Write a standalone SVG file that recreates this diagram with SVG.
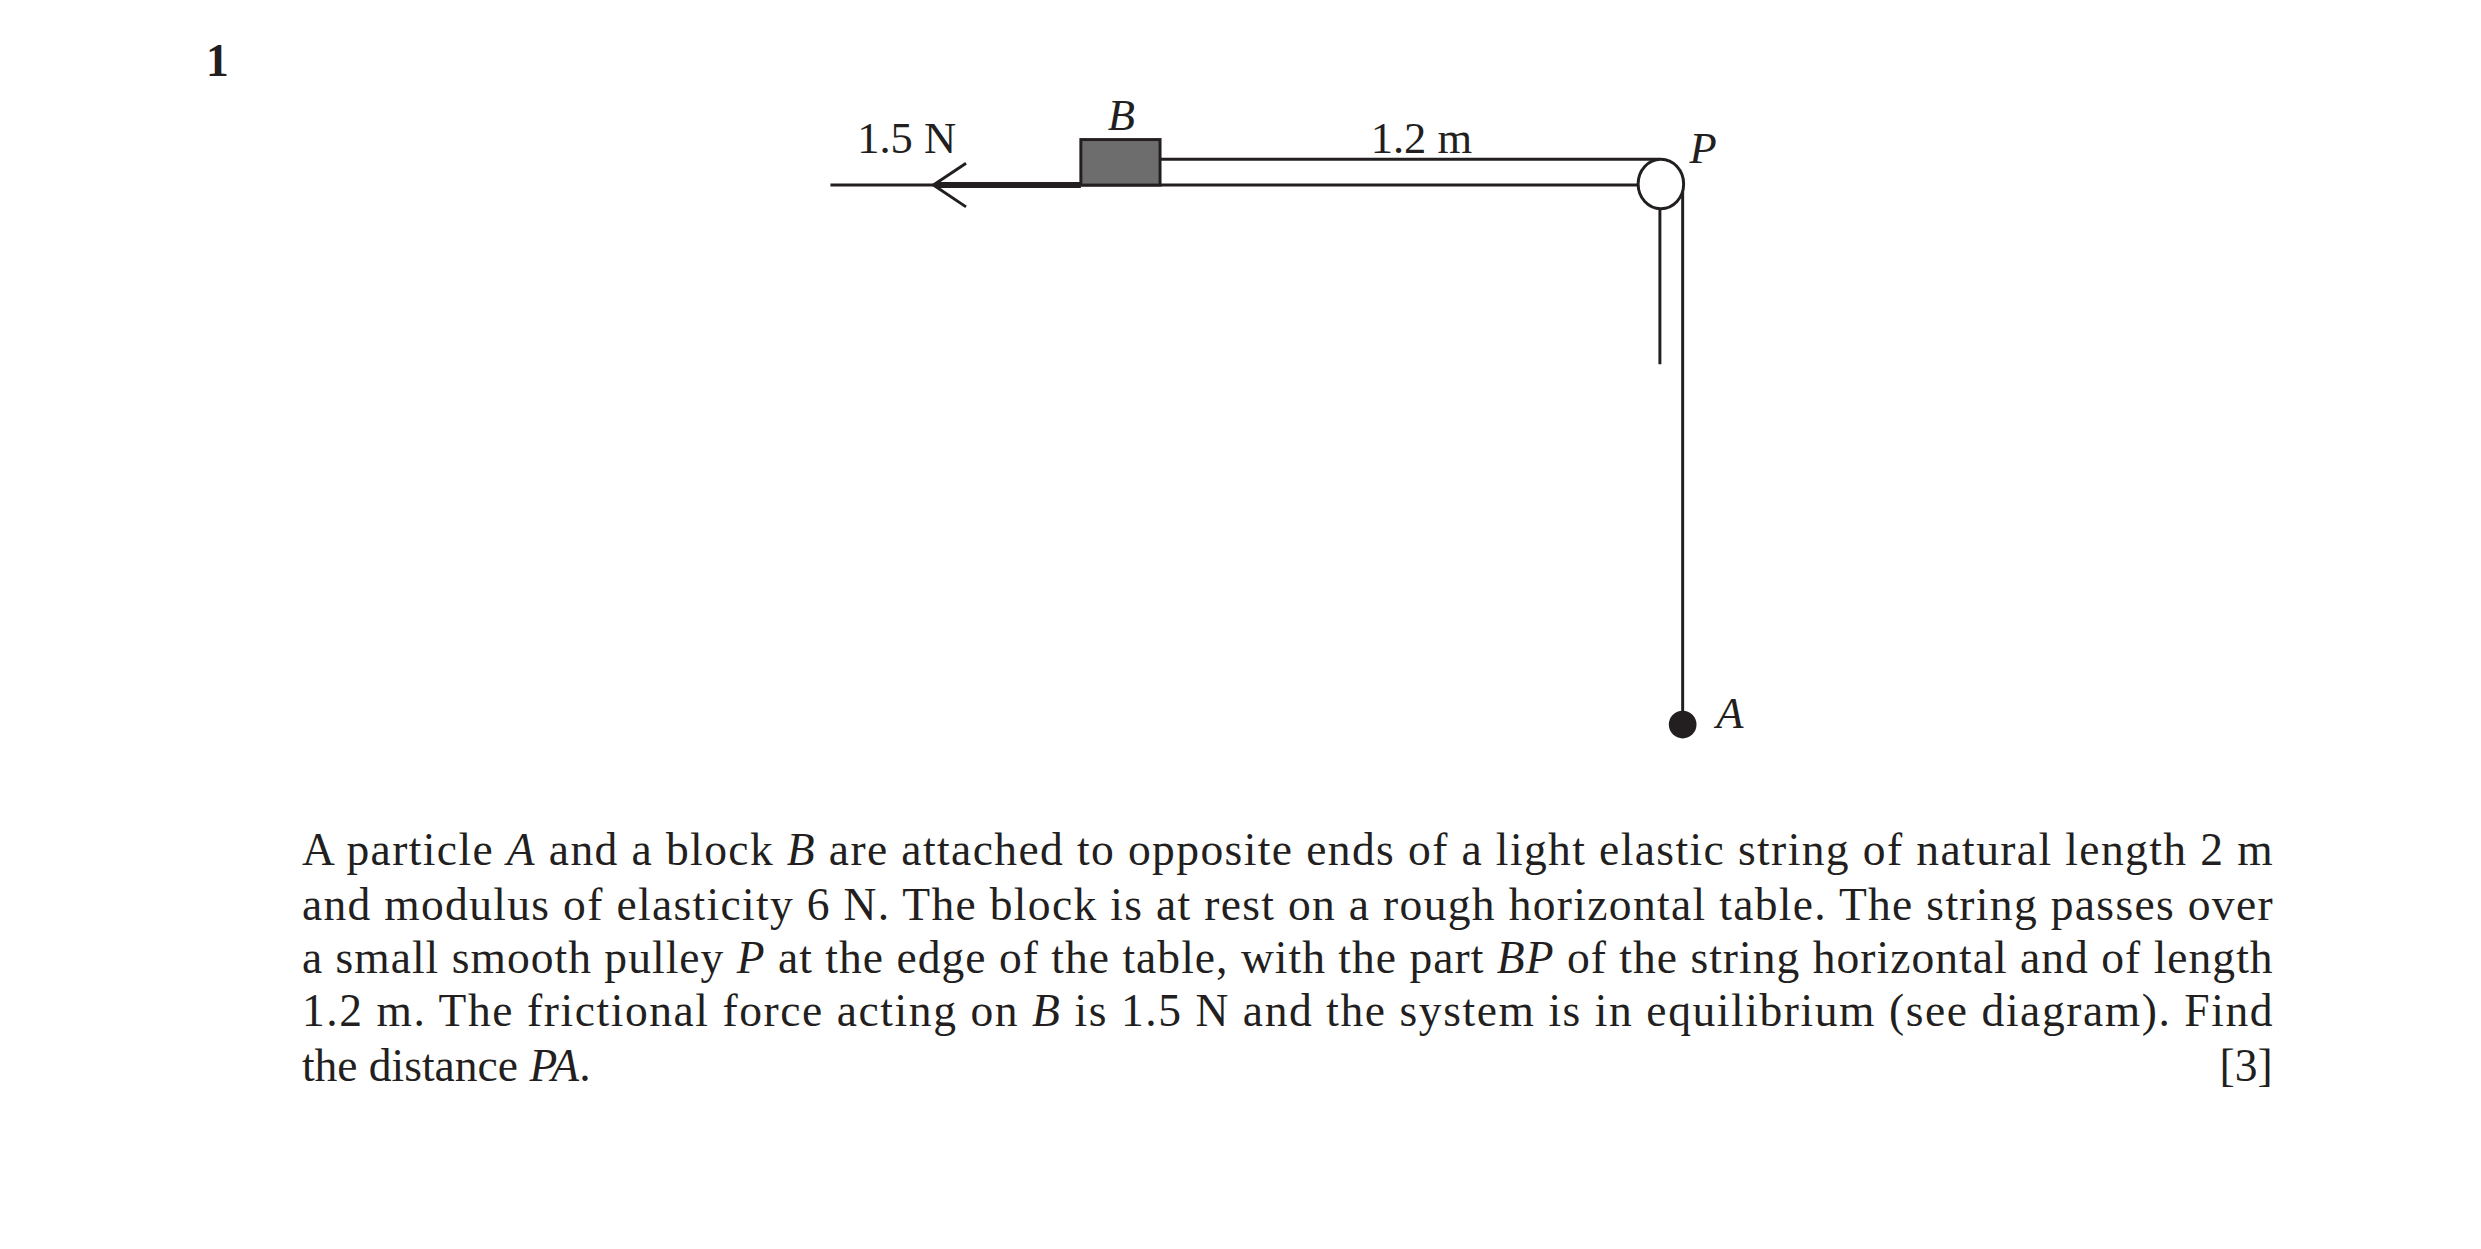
<svg xmlns="http://www.w3.org/2000/svg" width="2481" height="1249" viewBox="0 0 2481 1249">
<style>
.t{font-family:"Liberation Serif","Times New Roman",serif;font-size:46px;fill:#231f20}
.l{font-family:"Liberation Serif","Times New Roman",serif;font-size:45px;fill:#231f20}
.s{stroke:#231f20;stroke-width:3;fill:none}
</style>
<rect width="2481" height="1249" fill="#fff"/>
<g transform="scale(0.9898)">
<text x="208" y="77" class="t" font-weight="bold" font-size="44">1</text>
<g id="connectors">
<line class="s" x1="839" y1="187" x2="1656" y2="187"/>
<line x1="945" y1="187" x2="1092" y2="187" stroke="#231f20" stroke-width="6"/>
<polyline class="s" points="976,165 943,187 976,209" stroke-width="3.5"/>
<line class="s" x1="1172" y1="161" x2="1677" y2="161"/>
<line class="s" x1="1700" y1="185" x2="1700" y2="732"/>
<line class="s" x1="1677" y1="208" x2="1677" y2="368"/>
</g>
<g id="B"><rect x="1092" y="141" width="80" height="46" fill="#6d6d6d" stroke="#231f20" stroke-width="3"/>
<text x="1133" y="131" class="l" font-style="italic" text-anchor="middle">B</text></g>
<g id="P"><ellipse cx="1678" cy="186" rx="23" ry="25" fill="#fff" stroke="#231f20" stroke-width="3"/>
<text x="1707" y="165" class="l" font-style="italic">P</text></g>
<g id="A"><circle cx="1700" cy="732" r="14" fill="#231f20"/>
<text x="1734" y="736" class="l" font-style="italic">A</text></g>
<text x="866" y="155" class="l">1.5 N</text>
<text x="1436" y="155" class="l" text-anchor="middle">1.2 m</text>
<text x="305" y="874" class="t" textLength="1991" lengthAdjust="spacing">A particle <tspan font-style="italic">A</tspan> and a block <tspan font-style="italic">B</tspan> are attached to opposite ends of a light elastic string of natural length 2 m</text>
<text x="305" y="929" class="t" textLength="1991" lengthAdjust="spacing">and modulus of elasticity 6 N. The block is at rest on a rough horizontal table.  The string passes over</text>
<text x="305" y="983" class="t" textLength="1991" lengthAdjust="spacing">a small smooth pulley <tspan font-style="italic">P</tspan> at the edge of the table, with the part <tspan font-style="italic">BP</tspan> of the string horizontal and of length</text>
<text x="305" y="1037" class="t" textLength="1991" lengthAdjust="spacing">1.2 m.  The frictional force acting on <tspan font-style="italic">B</tspan> is 1.5 N and the system is in equilibrium (see diagram).  Find</text>
<text x="305" y="1092" class="t">the distance <tspan font-style="italic">PA</tspan>.</text>
<text x="2296" y="1092" class="t" text-anchor="end">[3]</text>
</g>
</svg>
